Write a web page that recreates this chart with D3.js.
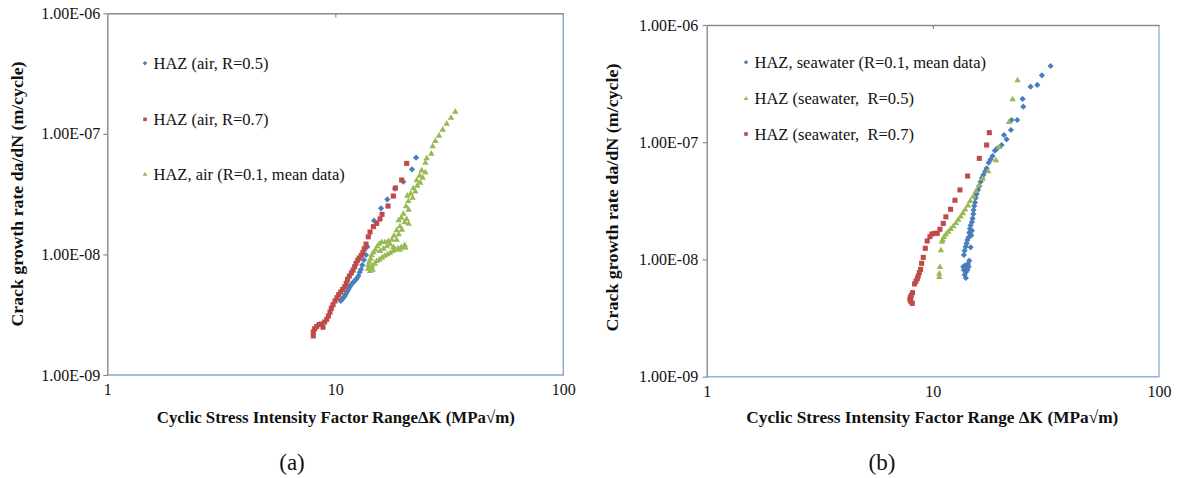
<!DOCTYPE html>
<html>
<head>
<meta charset="utf-8">
<script src="https://cdn.jsdelivr.net/npm/d3@7"></script>
<style>
  html, body { margin: 0; padding: 0; background: #ffffff; }
  svg { display: block; }
</style>
</head>
<body>
<svg id="fig" width="1179" height="478"></svg>
<script>
// ---- tick values and labels ----
const xTicks = [1, 10, 100];
const xTickLabels = ["1", "10", "100"];
const yTicks = [1e-9, 1e-8, 1e-7, 1e-6];
const yTickLabels = ["1.00E-09", "1.00E-08", "1.00E-07", "1.00E-06"];

// ---- panel (a): HAZ in air, [ΔK (MPa√m), da/dN (m/cycle)] ----
const airR05 = [
  [10.56,4.11e-9],[10.70,4.24e-9],[10.85,4.38e-9],[11.00,4.52e-9],[11.14,4.73e-9],[11.29,4.94e-9],
  [11.44,5.16e-9],[11.60,5.43e-9],[11.80,5.69e-9],[12.00,5.87e-9],[12.20,6.10e-9],[12.41,6.30e-9],
  [12.62,6.62e-9],[12.79,7.10e-9],[12.96,7.51e-9],[13.14,8.16e-9],[13.36,8.99e-9],[13.64,9.89e-9],
  [13.82,1.16e-8],[14.79,1.905e-8],[15.87,2.41e-8],[16.91,2.86e-8],[18.28,3.51e-8],[19.88,4.01e-8],
  [21.70,5.08e-8],[22.60,6.35e-8]
];
const airR07 = [
  [8.01,2.11e-9],[8.01,2.28e-9],[8.12,2.42e-9],[8.28,2.52e-9],[8.48,2.62e-9],[8.69,2.65e-9],
  [8.83,2.49e-9],[8.98,2.75e-9],[9.17,2.90e-9],[9.33,3.09e-9],[9.48,3.33e-9],[9.61,3.58e-9],
  [9.77,3.83e-9],[9.97,4.11e-9],[10.17,4.38e-9],[10.35,4.64e-9],[10.56,4.88e-9],[10.78,5.13e-9],
  [11.00,5.40e-9],[11.17,5.76e-9],[11.32,6.22e-9],[11.52,6.62e-9],[11.76,7.01e-9],[11.96,7.42e-9],
  [12.16,7.91e-9],[12.33,8.43e-9],[12.54,8.93e-9],[12.74,9.34e-9],[13.00,9.82e-9],[13.22,1.04e-8],
  [13.40,1.116e-8],[13.64,1.22e-8],[13.96,1.40e-8],[14.20,1.535e-8],[14.69,1.70e-8],[15.19,1.81e-8],
  [15.71,1.97e-8],[16.03,2.15e-8],[17.03,2.52e-8],[17.97,3.05e-8],[18.34,3.56e-8],[19.55,4.14e-8],
  [20.56,5.69e-8]
];
const airR01 = [
  [33.61,1.538e-7],[32.17,1.370e-7],[30.80,1.222e-7],[29.58,1.090e-7],[28.50,9.72e-8],[27.47,8.78e-8],
  [26.73,7.93e-8],[26.37,6.89e-8],[25.16,6.31e-8],[24.83,5.80e-8],[23.92,5.01e-8],[24.83,4.83e-8],
  [23.44,4.53e-8],[24.17,4.36e-8],[22.75,4.14e-8],[23.60,3.96e-8],[22.90,3.74e-8],[21.99,3.56e-8],
  [22.45,3.34e-8],[21.41,3.21e-8],[20.70,3.09e-8],[21.84,2.97e-8],[20.91,2.79e-8],[20.42,2.52e-8],
  [20.98,2.365e-8],[19.88,2.19e-8],[19.48,2.03e-8],[20.56,1.98e-8],[18.96,1.93e-8],[20.15,1.857e-8],
  [20.98,1.81e-8],[19.22,1.72e-8],[19.61,1.614e-8],[18.59,1.594e-8],[18.97,1.477e-8],[18.09,1.439e-8],
  [18.59,1.334e-8],[17.68,1.334e-8],[17.09,1.300e-8],[16.53,1.276e-8],[15.98,1.276e-8],[15.60,1.235e-8],
  [15.29,1.175e-8],[14.99,1.102e-8],[14.69,1.048e-8],[14.44,9.89e-9],[14.30,9.28e-9],[14.10,8.77e-9],
  [13.96,8.22e-9],[13.92,7.66e-9],[14.20,7.32e-9],[14.59,7.51e-9],[14.10,7.91e-9],[14.49,8.12e-9],
  [14.89,8.43e-9],[15.19,8.88e-9],[15.60,9.10e-9],[16.03,9.46e-9],[16.47,9.82e-9],[16.91,1.008e-8],
  [17.38,1.034e-8],[17.85,1.074e-8],[18.34,1.102e-8],[18.84,1.131e-8],[19.48,1.160e-8],[20.15,1.205e-8],
  [20.29,1.145e-8],[19.22,1.102e-8],[17.97,1.160e-8],[17.38,1.220e-8],[16.80,1.175e-8],[16.25,1.124e-8],
  [15.71,1.074e-8]
];

// ---- panel (b): HAZ in seawater ----
const seaR01 = [
  [33.16,4.47e-7],[30.36,3.72e-7],[28.96,3.08e-7],[27.05,2.98e-7],[24.94,2.34e-7],[25.11,2.01e-7],
  [23.62,1.548e-7],[22.29,1.548e-7],[22.14,1.271e-7],[20.63,1.153e-7],[21.19,1.059e-7],[20.14,9.47e-8],
  [19.27,8.88e-8],[18.81,8.47e-8],[18.37,7.63e-8],[18.01,7.14e-8],[17.65,6.69e-8],[17.29,5.99e-8],
  [17.05,5.65e-8],[16.71,5.26e-8],[16.49,4.95e-8],[16.27,4.61e-8],[16.05,4.23e-8],[15.83,3.92e-8],
  [15.62,3.61e-8],[15.46,3.35e-8],[15.35,3.06e-8],[15.24,2.86e-8],[15.14,2.64e-8],[15.09,2.44e-8],
  [14.99,2.24e-8],[14.89,2.09e-8],[14.69,1.956e-8],[14.59,1.831e-8],[14.89,1.761e-8],[14.49,1.693e-8],
  [14.79,1.606e-8],[14.40,1.545e-8],[14.21,1.466e-8],[14.11,1.373e-8],[13.96,1.286e-8],[14.69,1.269e-8],
  [13.82,1.189e-8],[13.72,1.092e-8],[14.49,9.76e-9],[14.30,9.15e-9],[13.91,8.91e-9],[13.63,8.68e-9],
  [14.11,8.45e-9],[13.72,8.13e-9],[14.00,7.81e-9],[13.82,7.41e-9],[14.00,6.95e-9],[14.40,8.68e-9],
  [14.21,8.13e-9]
];
const seaR05 = [
  [23.70,3.40e-7],[22.53,2.34e-7],[21.70,1.498e-7],[19.67,9.17e-8],[19.01,7.05e-8],[17.58,5.69e-8],
  [16.60,4.92e-8],[15.99,4.32e-8],[15.51,3.86e-8],[15.09,3.47e-8],[14.64,3.18e-8],[14.30,2.91e-8],
  [13.91,2.68e-8],[13.58,2.50e-8],[13.27,2.34e-8],[12.96,2.20e-8],[12.65,2.06e-8],[12.31,1.93e-8],
  [11.98,1.831e-8],[11.70,1.738e-8],[11.42,1.649e-8],[11.20,1.565e-8],[11.04,1.485e-8],[10.97,1.428e-8],
  [10.86,1.204e-8],[10.75,8.68e-9],[10.68,7.61e-9],[10.68,7.13e-9]
];
const seaR07 = [
  [17.77,1.207e-7],[17.29,9.47e-8],[16.05,7.28e-8],[14.25,5.15e-8],[13.18,3.92e-8],[12.52,3.20e-8],
  [11.98,2.68e-8],[11.42,2.31e-8],[11.12,2.03e-8],[10.75,1.81e-8],[10.46,1.671e-8],[10.18,1.671e-8],
  [9.90,1.649e-8],[9.71,1.565e-8],[9.44,1.438e-8],[9.26,1.245e-8],[9.07,1.042e-8],[8.92,9.27e-9],
  [8.83,8.24e-9],[8.71,7.71e-9],[8.62,7.22e-9],[8.54,6.86e-9],[8.42,6.51e-9],[8.30,6.18e-9],
  [8.13,5.21e-9],[8.03,4.94e-9],[7.95,4.75e-9],[7.92,4.54e-9],[8.00,4.37e-9],[8.11,4.22e-9]
];

// ---- series names ----
const airNames = ["HAZ (air, R=0.5)", "HAZ (air, R=0.7)", "HAZ, air (R=0.1, mean data)"];
const seaNames = ["HAZ, seawater (R=0.1, mean data)", "HAZ (seawater,  R=0.5)", "HAZ (seawater,  R=0.7)"];
const xTitles = ["Cyclic Stress Intensity Factor Range\u0394K (MPa\u221Am)",
                 "Cyclic Stress Intensity Factor Range \u0394K (MPa\u221Am)"];
const yTitle = "Crack growth rate da/dN (m/cycle)";
const captions = ["(a)", "(b)"];

// ---- drawing ----
const SERIF = "'Liberation Serif','Times New Roman',Times,serif";
const COL = { blue: "#4A7EBB", red: "#BE4B48", green: "#98B954" };
const svg = d3.select("#fig");

function markerPath(kind, s) {
  if (kind === "diamond") return `M0,${-s}L${s},0L0,${s}L${-s},0Z`;
  if (kind === "square") return `M${-s*0.82},${-s*0.82}h${s*1.64}v${s*1.64}h${-s*1.64}Z`;
  // triangle
  return `M0,${-s*1.05}L${s*1.05},${s*0.75}L${-s*1.05},${s*0.75}Z`;
}

function drawPanel(p) {
  const x = d3.scaleLog().domain([1, 100]).range([p.x0, p.x1]);
  const y = d3.scaleLog().domain([1e-9, 1e-6]).range([p.y1, p.y0]);
  const g = svg.append("g");

  // plot-area border (right and bottom)
  g.append("path")
    .attr("d", `M${x(1)},${y(1e-9)}H${x(100)}V${y(1e-6)}`)
    .attr("fill", "none").attr("stroke", p.borderColor).attr("stroke-width", 1.4);

  // horizontal axis line along the top, major tick at 10
  const top = g.append("g").attr("transform", `translate(0,${y(1e-6)})`)
    .call(d3.axisTop(x).tickValues([10]).tickSize(-4).tickSizeOuter(0).tickFormat(""));
  top.select(".domain").attr("stroke", "#8A8A8A").attr("stroke-width", 1.4);
  top.selectAll(".tick line").attr("stroke", "#8A8A8A").attr("stroke-width", 1.2);

  // x tick labels below the plot
  const bx = g.append("g").attr("transform", `translate(0,${y(1e-9)})`)
    .call(d3.axisBottom(x).tickValues(xTicks).tickSize(0).tickPadding(9)
      .tickFormat((d, i) => xTickLabels[i]));
  bx.select(".domain").remove();
  bx.selectAll("text").attr("font-family", SERIF).attr("font-size", 16).attr("fill", "#111");

  // vertical axis
  const ay = g.append("g").attr("transform", `translate(${x(1)},0)`)
    .call(d3.axisLeft(y).tickValues(yTicks).tickSize(4).tickSizeOuter(0).tickPadding(p.yPad)
      .tickFormat((d, i) => yTickLabels[i]));
  ay.select(".domain").attr("stroke", "#8A8A8A").attr("stroke-width", 1.4);
  ay.selectAll(".tick line").attr("stroke", "#8A8A8A").attr("stroke-width", 1.2);
  ay.selectAll("text").attr("font-family", SERIF).attr("font-size", 16).attr("fill", "#111");

  // data points
  p.series.forEach(s => {
    g.append("g").selectAll("path").data(s.data).join("path")
      .attr("transform", d => `translate(${x(d[0])},${y(d[1])})`)
      .attr("d", markerPath(s.kind, 3.1))
      .attr("fill", s.color);
  });

  // legend
  p.series.forEach((s, i) => {
    const ly = p.legY[i];
    g.append("path").attr("transform", `translate(${p.legX},${ly})`)
      .attr("d", markerPath(s.kind, 2.2)).attr("fill", s.color);
    g.append("text").attr("x", p.legX + 8.5).attr("y", ly).attr("dy", "0.34em")
      .attr("font-family", SERIF).attr("font-size", 16.5).attr("fill", "#111")
      .attr("xml:space", "preserve")
      .text(s.name);
  });

  // axis titles
  g.append("text").attr("x", p.xTitleX).attr("y", 417).attr("dy", "0.35em")
    .attr("text-anchor", "middle").attr("font-family", SERIF).attr("font-weight", "bold")
    .attr("font-size", 17).attr("fill", "#111")
    .attr("textLength", p.xTitleLen).attr("lengthAdjust", "spacingAndGlyphs")
    .text(p.xTitle);
  g.append("text").attr("transform", `translate(${p.yTitleX},${p.yTitleY}) rotate(-90)`)
    .attr("dy", "0.35em").attr("text-anchor", "middle").attr("font-family", SERIF)
    .attr("font-weight", "bold").attr("font-size", 17).attr("fill", "#111")
    .attr("textLength", p.yTitleLen).attr("lengthAdjust", "spacingAndGlyphs")
    .text(yTitle);

  // caption
  g.append("text").attr("x", p.capX).attr("y", 462).attr("dy", "0.35em")
    .attr("text-anchor", "middle").attr("font-family", SERIF).attr("font-size", 23)
    .attr("fill", "#111").text(p.caption);
}

drawPanel({
  x0: 107.3, x1: 563.3, y0: 13.3, y1: 375, yPad: 3, borderColor: "#8BA7D2",
  series: [
    { data: airR05, kind: "diamond", color: COL.blue, name: airNames[0] },
    { data: airR07, kind: "square", color: COL.red, name: airNames[1] },
    { data: airR01, kind: "triangle", color: COL.green, name: airNames[2] }
  ],
  legX: 145, legY: [63.3, 119.3, 174],
  xTitle: xTitles[0], xTitleX: 335.8, xTitleLen: 358,
  yTitleX: 17, yTitleY: 194, yTitleLen: 265,
  capX: 292, caption: captions[0]
});

drawPanel({
  x0: 706.7, x1: 1159, y0: 25, y1: 376.7, yPad: 4.5, borderColor: "#8DB3E2",
  series: [
    { data: seaR01, kind: "diamond", color: COL.blue, name: seaNames[0] },
    { data: seaR05, kind: "triangle", color: COL.green, name: seaNames[1] },
    { data: seaR07, kind: "square", color: COL.red, name: seaNames[2] }
  ],
  legX: 746, legY: [62.3, 98.3, 134],
  xTitle: xTitles[1], xTitleX: 932.3, xTitleLen: 372,
  yTitleX: 612.5, yTitleY: 197.5, yTitleLen: 268,
  capX: 882, caption: captions[1]
});
</script>
</body>
</html>
